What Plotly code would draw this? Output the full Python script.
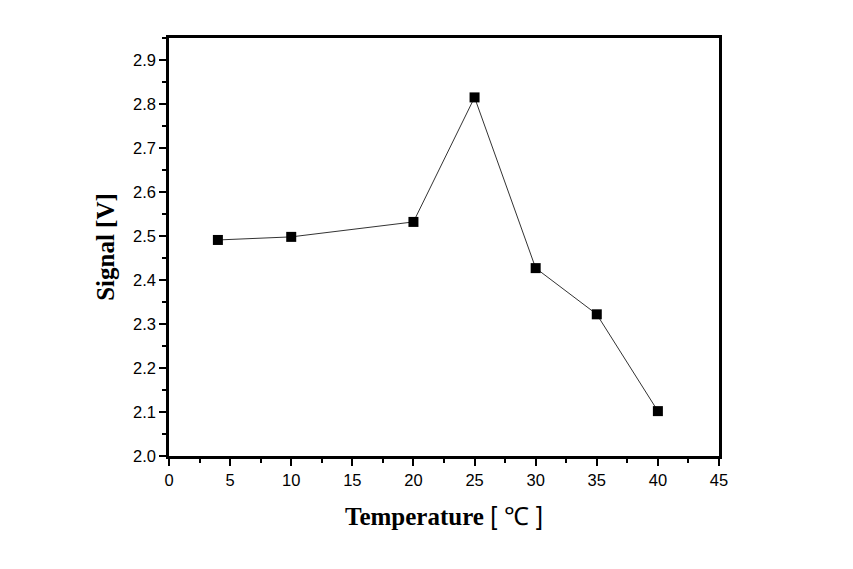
import plotly.graph_objects as go

temperature = [4, 10, 20, 25, 30, 35, 40]
signal = [2.491, 2.498, 2.532, 2.815, 2.427, 2.322, 2.102]

x_ticks = [0, 5, 10, 15, 20, 25, 30, 35, 40, 45]
y_ticks = [2.0, 2.1, 2.2, 2.3, 2.4, 2.5, 2.6, 2.7, 2.8, 2.9]

fig = go.Figure()
fig.add_trace(go.Scatter(
    x=temperature, y=signal, mode="lines+markers",
    line=dict(color="#333333", width=1),
    marker=dict(symbol="square", size=10, color="black"),
    showlegend=False,
))

axis_common = dict(
    showline=True, linecolor="black", linewidth=2.5, mirror=True,
    ticks="outside", ticklen=7, tickwidth=2, tickcolor="black",
    showgrid=False, zeroline=False, automargin=False,
    tickfont=dict(family="Liberation Sans, Arial", size=16.5, color="black"),
)

fig.update_xaxes(
    range=[0, 45], tickvals=x_ticks, ticktext=[str(v) for v in x_ticks],
    minor=dict(ticks="outside", ticklen=4, tickwidth=2, tickcolor="black", dtick=2.5, tick0=0),
    title=dict(text="<b>Temperature</b> <span style='font-family:Liberation Sans'>[ ℃ ]</span>",
               font=dict(family="Liberation Serif, Times New Roman", size=25, color="black"),
               standoff=20),
    **axis_common,
)
fig.update_yaxes(
    range=[2.0, 2.95], tickvals=y_ticks, ticktext=[f"{v:.1f}" for v in y_ticks],
    minor=dict(ticks="outside", ticklen=4, tickwidth=2, tickcolor="black", dtick=0.05, tick0=2.0),
    title=dict(text="<b>Signal [V]</b>",
               font=dict(family="Liberation Serif, Times New Roman", size=25, color="black"),
               standoff=12),
    **axis_common,
)

# page body adds ~8px offset, so shift margins to land the frame where the reference has it
fig.update_layout(
    width=853, height=569,
    margin=dict(l=161, r=142, t=30, b=121),
    plot_bgcolor="white", paper_bgcolor="white",
)

fig.write_html("out.html")
